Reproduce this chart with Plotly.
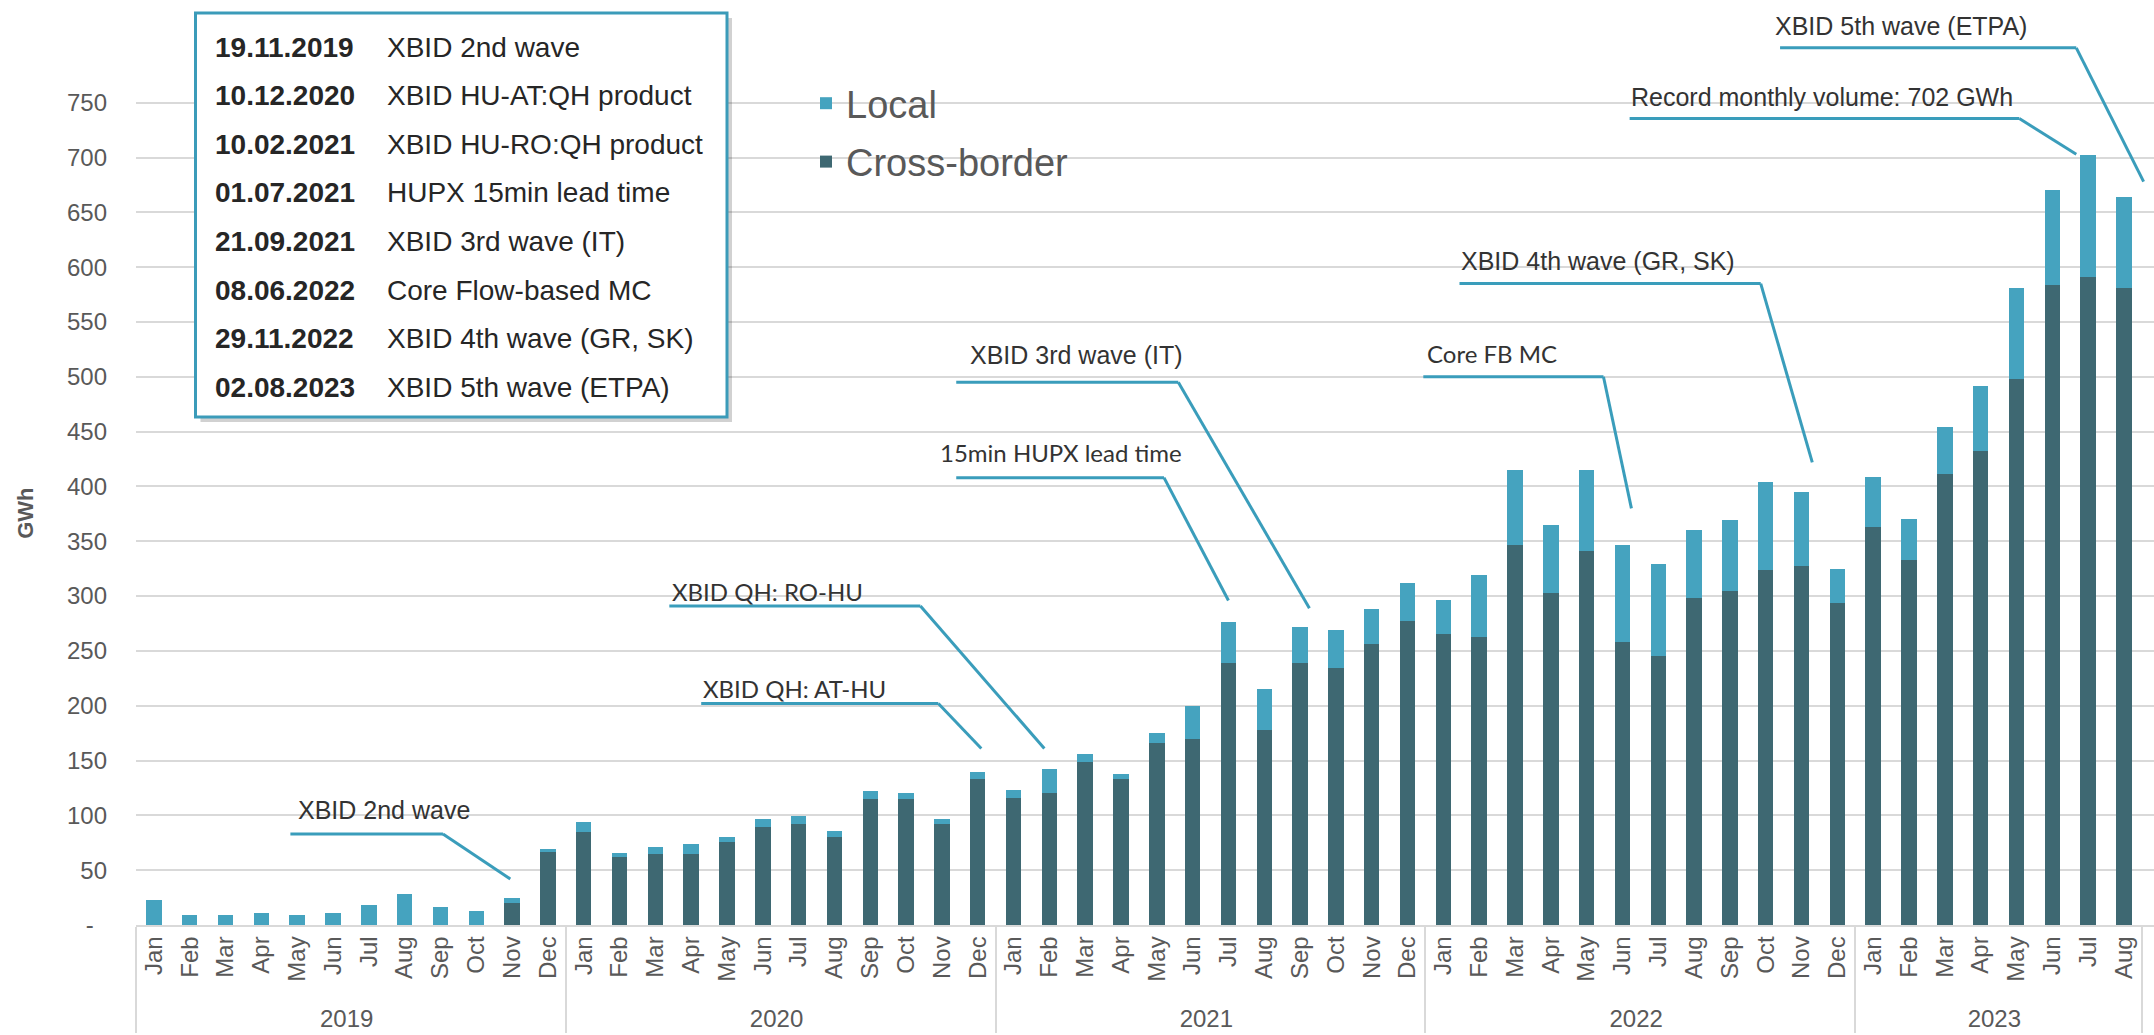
import plotly.graph_objects as go

# ---------------- data ----------------
month_names = ["Jan", "Feb", "Mar", "Apr", "May", "Jun", "Jul", "Aug", "Sep", "Oct", "Nov", "Dec"]
years = ["2019"] * 12 + ["2020"] * 12 + ["2021"] * 12 + ["2022"] * 12 + ["2023"] * 8
months = month_names * 4 + month_names[:8]

cross_border = [0, 0, 0, 0, 0, 0, 0, 0, 0, 0, 20, 67,
                85, 62, 65, 65, 76, 89, 92, 80, 115, 115, 92, 133,
                116, 120, 149, 133, 166, 170, 239, 178, 239, 234, 256, 277,
                265, 263, 347, 303, 341, 258, 245, 298, 305, 324, 327, 294,
                363, 333, 411, 432, 498, 584, 591, 581]
local = [23, 9, 9, 11, 9, 11, 18, 28, 16, 13, 5, 2,
         9, 4, 6, 9, 4, 8, 7, 6, 7, 5, 5, 7,
         7, 22, 7, 5, 9, 30, 37, 37, 33, 35, 32, 35,
         31, 56, 68, 62, 74, 89, 84, 62, 64, 80, 68, 31,
         46, 37, 43, 60, 83, 86, 111, 83]

y_tickvals = list(range(0, 751, 50))
y_ticktext = ["-\u00a0\u00a0"] + [str(v) for v in y_tickvals[1:]]

event_dates = ["19.11.2019", "10.12.2020", "10.02.2021", "01.07.2021",
               "21.09.2021", "08.06.2022", "29.11.2022", "02.08.2023"]
event_texts = ["XBID 2nd wave", "XBID HU-AT:QH product", "XBID HU-RO:QH product",
               "HUPX 15min lead time", "XBID 3rd wave (IT)", "Core Flow-based MC",
               "XBID 4th wave (GR, SK)", "XBID 5th wave (ETPA)"]

callout_texts = ["XBID 2nd wave", "XBID QH: AT-HU", "XBID QH: RO-HU", "15min HUPX lead time",
                 "XBID 3rd wave (IT)", "Core FB MC", "XBID 4th wave (GR, SK)",
                 "Record monthly volume: 702 GWh", "XBID 5th wave (ETPA)"]

# ---------------- styling / geometry ----------------
W, H = 2154, 1035
ML, MR, MT, MB = 136, 0, 4, 110
PW, PH = W - ML - MR, H - MT - MB

LOCAL_C = "#45A3BF"
XB_C = "#3E6872"
LINE_C = "#3A9DBB"
GRID_C = "#D9D9D9"
TXT_C = "#595959"
ARIAL = "Liberation Sans, Arial, sans-serif"
CALIBRI = "Lato, Carlito, Calibri, sans-serif"


def px2paper_x(px):
    return (px - ML) / PW


def px2paper_y(py):
    return (H - MB - py) / PH


fig = go.Figure()
fig.add_trace(go.Bar(x=[years, months], y=cross_border, name="Cross-border",
                     marker=dict(color=XB_C, line=dict(width=0)),
                     legendgroup="xb", legendrank=2))
fig.add_trace(go.Bar(x=[years, months], y=local, name="Local",
                     marker=dict(color=LOCAL_C, line=dict(width=0)),
                     legendgroup="loc", legendrank=1))

shapes = []
annotations = []

# callouts: (text index, text_x, text_y, font, size, hline x0, hline x1, hline y, end x, end y)
callouts = [
    (0, 3.98, 105, ARIAL, 25, 3.81, 8.07, 83, 9.95, 42),
    (1, 15.28, 216, CALIBRI, 24, 15.28, 21.9, 202, 23.1, 161),
    (2, 14.42, 304, CALIBRI, 24, 14.39, 21.4, 291, 24.86, 161),
    (3, 21.9, 431, CALIBRI, 24, 22.4, 28.2, 408, 30.0, 296),
    (4, 22.74, 520, ARIAL, 25, 22.4, 28.6, 495, 32.26, 289),
    (5, 35.5, 521, CALIBRI, 24, 35.44, 40.47, 500, 41.25, 380),
    (6, 36.45, 606, ARIAL, 25, 36.45, 44.86, 585, 46.3, 422),
    (7, 41.19, 755, ARIAL, 25, 41.2, 52.08, 735.5, 53.67, 703),
    (8, 45.21, 820, ARIAL, 25, 45.4, 53.67, 800, 55.55, 678),
]
for i, tx, ty, fam, fs, hx0, hx1, hy, ex, ey in callouts:
    shapes.append(dict(type="line", xref="x", yref="y", x0=hx0, x1=hx1, y0=hy, y1=hy,
                       line=dict(color=LINE_C, width=3), layer="above"))
    shapes.append(dict(type="line", xref="x", yref="y", x0=hx1, x1=ex, y0=hy, y1=ey,
                       line=dict(color=LINE_C, width=3), layer="above"))
    annotations.append(dict(text=callout_texts[i], x=tx, y=ty, xref="x", yref="y",
                            xanchor="left", yanchor="middle", showarrow=False,
                            font=dict(family=fam, size=fs, color="#333333")))

# event box
bx0, bx1, by0, by1 = 195.5, 727, 13, 417
shapes.append(dict(type="rect", xref="paper", yref="paper",
                   x0=px2paper_x(bx0 + 5), x1=px2paper_x(bx1 + 5),
                   y0=px2paper_y(by1 + 5), y1=px2paper_y(by0 + 5),
                   fillcolor="rgba(0,0,0,0.18)", line=dict(width=0), layer="above"))
shapes.append(dict(type="rect", xref="paper", yref="paper",
                   x0=px2paper_x(bx0), x1=px2paper_x(bx1),
                   y0=px2paper_y(by1), y1=px2paper_y(by0),
                   fillcolor="white", line=dict(color="#3B9BB9", width=3), layer="above"))
for k, (d, t) in enumerate(zip(event_dates, event_texts)):
    ry = 47 + k * 48.6
    annotations.append(dict(text="<b>" + d + "</b>", x=px2paper_x(213), y=px2paper_y(ry),
                            xref="paper", yref="paper", xanchor="left", yanchor="middle",
                            showarrow=False, font=dict(family=ARIAL, size=28, color="#262626")))
    annotations.append(dict(text=t, x=px2paper_x(385), y=px2paper_y(ry),
                            xref="paper", yref="paper", xanchor="left", yanchor="middle",
                            showarrow=False, font=dict(family=ARIAL, size=28, color="#262626")))

# y-axis title
annotations.append(dict(text="<b>GWh</b>", x=px2paper_x(26), y=375, xref="paper", yref="y",
                        xanchor="center", yanchor="middle", textangle=-90, showarrow=False,
                        font=dict(family=ARIAL, size=22, color=TXT_C)))

fig.update_layout(
    width=W, height=H,
    margin=dict(l=ML, r=MR, t=MT, b=MB),
    barmode="stack", bargap=0.57,
    plot_bgcolor="white", paper_bgcolor="white",
    font=dict(family=ARIAL, color=TXT_C),
    legend=dict(x=px2paper_x(806), y=px2paper_y(72), xanchor="left", yanchor="top",
                font=dict(size=38, color=TXT_C, family=ARIAL), bgcolor="rgba(0,0,0,0)",
                traceorder="grouped", tracegroupgap=6),
    xaxis=dict(type="multicategory", range=[-0.5, 55.84], tickangle=-90,
               tickfont=dict(size=24, color=TXT_C), showline=True, linecolor=GRID_C,
               linewidth=1.5, showdividers=True, dividercolor=GRID_C, dividerwidth=1.5,
               showgrid=False, ticks=""),
    yaxis=dict(range=[0, 840], tickvals=y_tickvals, ticktext=y_ticktext,
               tickfont=dict(size=24, color=TXT_C), gridcolor=GRID_C, gridwidth=1.5,
               zeroline=False, ticklabelstandoff=28, showline=False),
    shapes=shapes, annotations=annotations,
    showlegend=True,
)

fig.write_html("out.html")
